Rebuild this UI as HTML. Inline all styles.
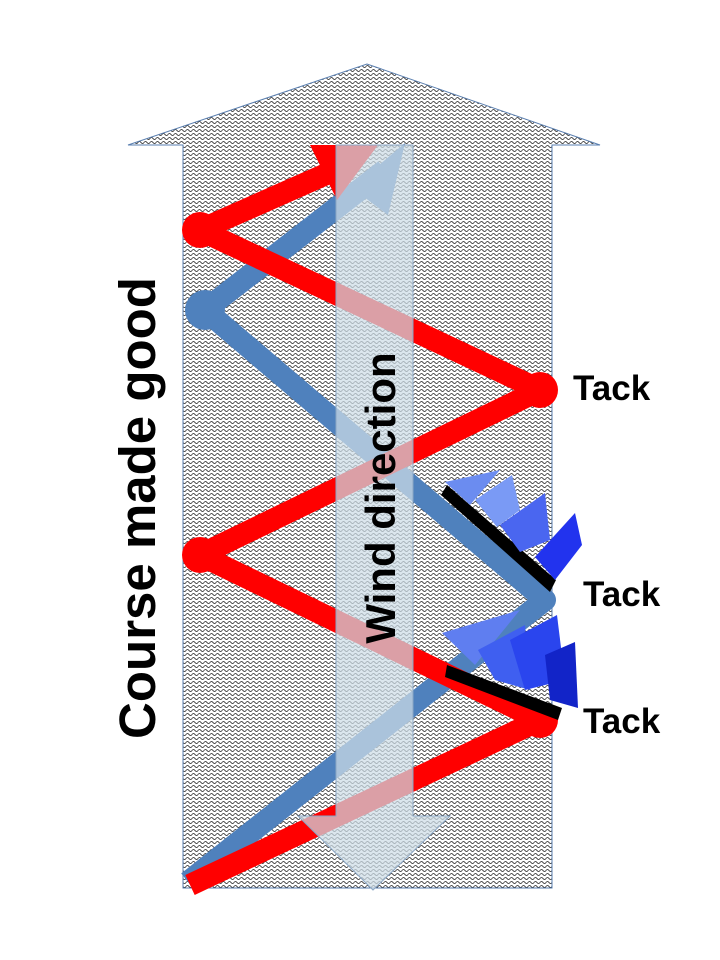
<!DOCTYPE html>
<html><head><style>
html,body{margin:0;padding:0;background:#fff;}
svg{display:block;}
text{font-family:"Liberation Sans",sans-serif;font-weight:bold;fill:#000;}
</style></head><body>
<svg width="720" height="960" viewBox="0 0 720 960">
<defs>
<pattern id="w" width="6" height="4" patternUnits="userSpaceOnUse">
<rect width="6" height="4" fill="#fff"/>
<path d="M0 2.5 Q1.5 0.5 3 2.5 T6 2.5" stroke="#222" stroke-width="0.8" fill="none"/>
</pattern>
</defs>
<polygon points="183,888 183,145 128,145 367,64 600,145 552,145 552,888" fill="url(#w)" stroke="#5a7fb0" stroke-width="1"/>
<!-- blue path -->
<polyline points="188,882 545,600 205,310 385,170" fill="none" stroke="#4f81bd" stroke-width="22" stroke-linejoin="round"/>
<circle cx="205" cy="310" r="20" fill="#4f81bd"/>
<polygon points="405,143 352,188 388,215" fill="#4f81bd"/>
<!-- red path -->
<polyline points="190,885 540,720 200,555 540,390 200,230 340,168" fill="none" stroke="#ff0000" stroke-width="22" stroke-linejoin="round"/>
<circle cx="200" cy="230" r="18" fill="#ff0000"/>
<circle cx="540" cy="390" r="18" fill="#ff0000"/>
<circle cx="200" cy="555" r="18" fill="#ff0000"/>
<circle cx="540" cy="720" r="18" fill="#ff0000"/>
<polygon points="310,145 378,145 337,200" fill="#ff0000"/>
<!-- wind arrow -->
<polygon points="336,145 413,145 413,816 450,816 373,890 298,816 336,816" fill="rgba(205,220,230,0.72)" stroke="#8aa6c4" stroke-width="1"/>
<!-- ships -->
<g>
<polygon points="447,485 556,580 550,592 441,495" fill="#000"/>
<polygon points="445,482 500,470 470,505" fill="#6b8cf0"/>
<polygon points="475,500 512,475 520,510 497,527" fill="#7a9af5"/>
<polygon points="500,525 545,493 550,540 520,552" fill="#4a66f0"/>
<polygon points="535,557 575,513 582,545 555,580" fill="#2233ee"/>
</g>
<g>
<polygon points="447,665 562,708 558,720 445,677" fill="#000"/>
<polygon points="442,633 520,610 475,665" fill="#5f7ef0"/>
<polygon points="478,650 525,625 530,690 495,680" fill="#3f5ff0"/>
<polygon points="510,640 557,615 565,680 525,690" fill="#2a45ee"/>
<polygon points="545,655 575,642 578,708 550,700" fill="#1224c8"/>
</g>
<text transform="translate(155,508) rotate(-90)" text-anchor="middle" font-size="51">Course made good</text>
<text transform="translate(395,498) rotate(-90)" text-anchor="middle" font-size="42">Wind direction</text>
<text x="573" y="400" font-size="35">Tack</text>
<text x="583" y="606" font-size="35">Tack</text>
<text x="583" y="733" font-size="35">Tack</text>
</svg>
</body></html>
